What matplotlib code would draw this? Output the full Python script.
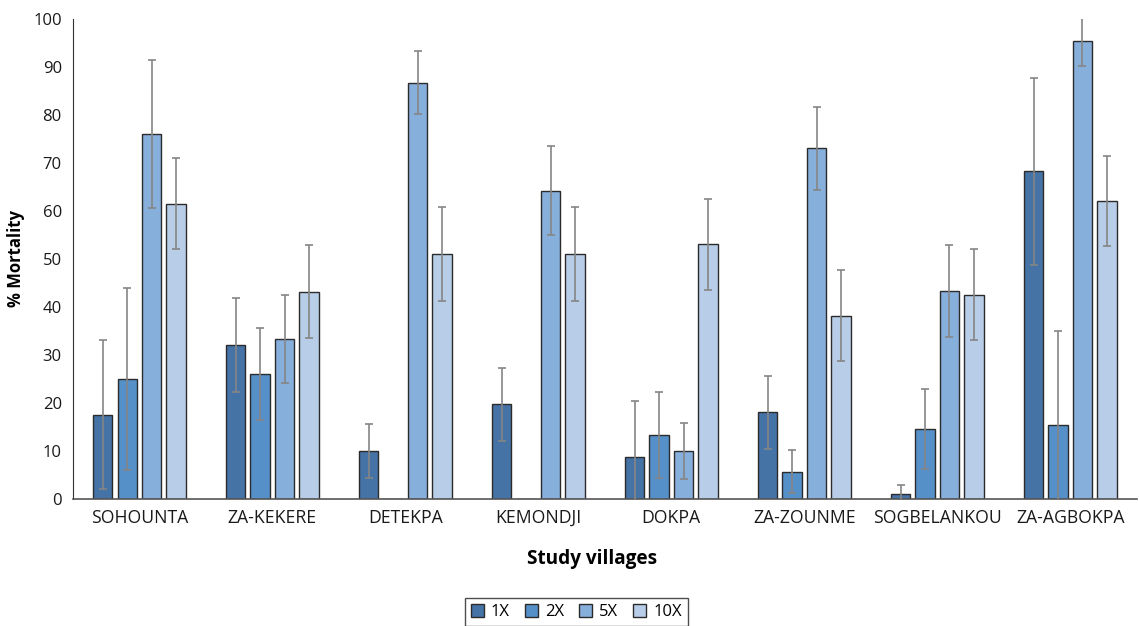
import matplotlib.pyplot as plt
import numpy as np

plt.rcParams['font.family'] = ['Open Sans', 'DejaVu Sans']

villages = ['SOHOUNTA', 'ZA-KEKERE', 'DETEKPA', 'KEMONDJI', 'DOKPA',
            'ZA-ZOUNME', 'SOGBELANKOU', 'ZA-AGBOKPA']
doses = ['1X', '2X', '5X', '10X']

mort_1x = [17.5, 32.0, 10.0, 19.7, 8.7, 18.0, 1.0, 68.2]
mort_2x = [25.0, 26.0, 0.0, 0.0, 13.3, 5.7, 14.5, 15.4]
mort_5x = [76.0, 33.3, 86.7, 64.2, 10.0, 73.0, 43.3, 95.4]
mort_10x = [61.5, 43.2, 51.0, 51.0, 53.0, 38.2, 42.5, 62.0]

err_1x = [15.5, 9.8, 5.7, 7.6, 11.6, 7.5, 2.0, 19.5]
err_2x = [19.0, 9.5, 0.0, 0.0, 9.0, 4.4, 8.3, 19.6]
err_5x = [15.5, 9.2, 6.6, 9.2, 5.9, 8.6, 9.5, 5.2]
err_10x = [9.5, 9.7, 9.7, 9.7, 9.5, 9.4, 9.5, 9.4]

colors = ['#4673a6', '#5690c9', '#86afdc', '#b8cde8']

series = [mort_1x, mort_2x, mort_5x, mort_10x]
errors = [err_1x, err_2x, err_5x, err_10x]

fig, ax = plt.subplots(figsize=(11.39, 6.26), dpi=100)
fig.subplots_adjust(left=0.064, right=0.998, top=0.97, bottom=0.203)

x = np.arange(len(villages))
step = 0.184
width = 0.145
for i, (vals, errs) in enumerate(zip(series, errors)):
    pos = x + (i - 1.5) * step
    ax.bar(pos, vals, width, color=colors[i], edgecolor='#2b2b2b', linewidth=1.0,
           label=doses[i], zorder=2)
    # no error bar where there is no bar
    mask = np.array(vals) > 0
    ax.errorbar(pos[mask], np.array(vals)[mask], yerr=np.array(errs)[mask],
                fmt='none', ecolor='#858585', elinewidth=1.2, capsize=3,
                capthick=1.2, zorder=3)

ax.set_xlim(-0.5, len(villages) - 0.5)
ax.set_ylim(0, 100)
ax.set_yticks(range(0, 101, 10))
ax.set_xticks(x)
ax.set_xticklabels(villages)
ax.tick_params(axis='both', length=0, colors='#1a1a1a')
ax.tick_params(axis='y', pad=8, labelsize=12)
ax.tick_params(axis='x', pad=7, labelsize=12.7)

for side in ['top', 'right']:
    ax.spines[side].set_visible(False)
ax.spines['left'].set_color('#333333')
ax.spines['bottom'].set_color('#555555')
ax.spines['bottom'].set_linewidth(1.2)

ax.set_ylabel('% Mortality', fontsize=12, fontweight='bold', labelpad=6)
ax.set_xlabel('Study villages', fontsize=13.7, fontweight='bold')
ax.xaxis.set_label_coords(0.488, -0.104)

leg = fig.legend(loc='upper center', bbox_to_anchor=(0.506, 0.058), ncol=4,
                 fontsize=12, frameon=True, fancybox=False, edgecolor='#222222',
                 handlelength=0.8, handleheight=0.8, handletextpad=0.4,
                 columnspacing=0.9, borderpad=0.35)
leg.get_frame().set_linewidth(1.0)

fig.savefig('out.png', dpi=100)
